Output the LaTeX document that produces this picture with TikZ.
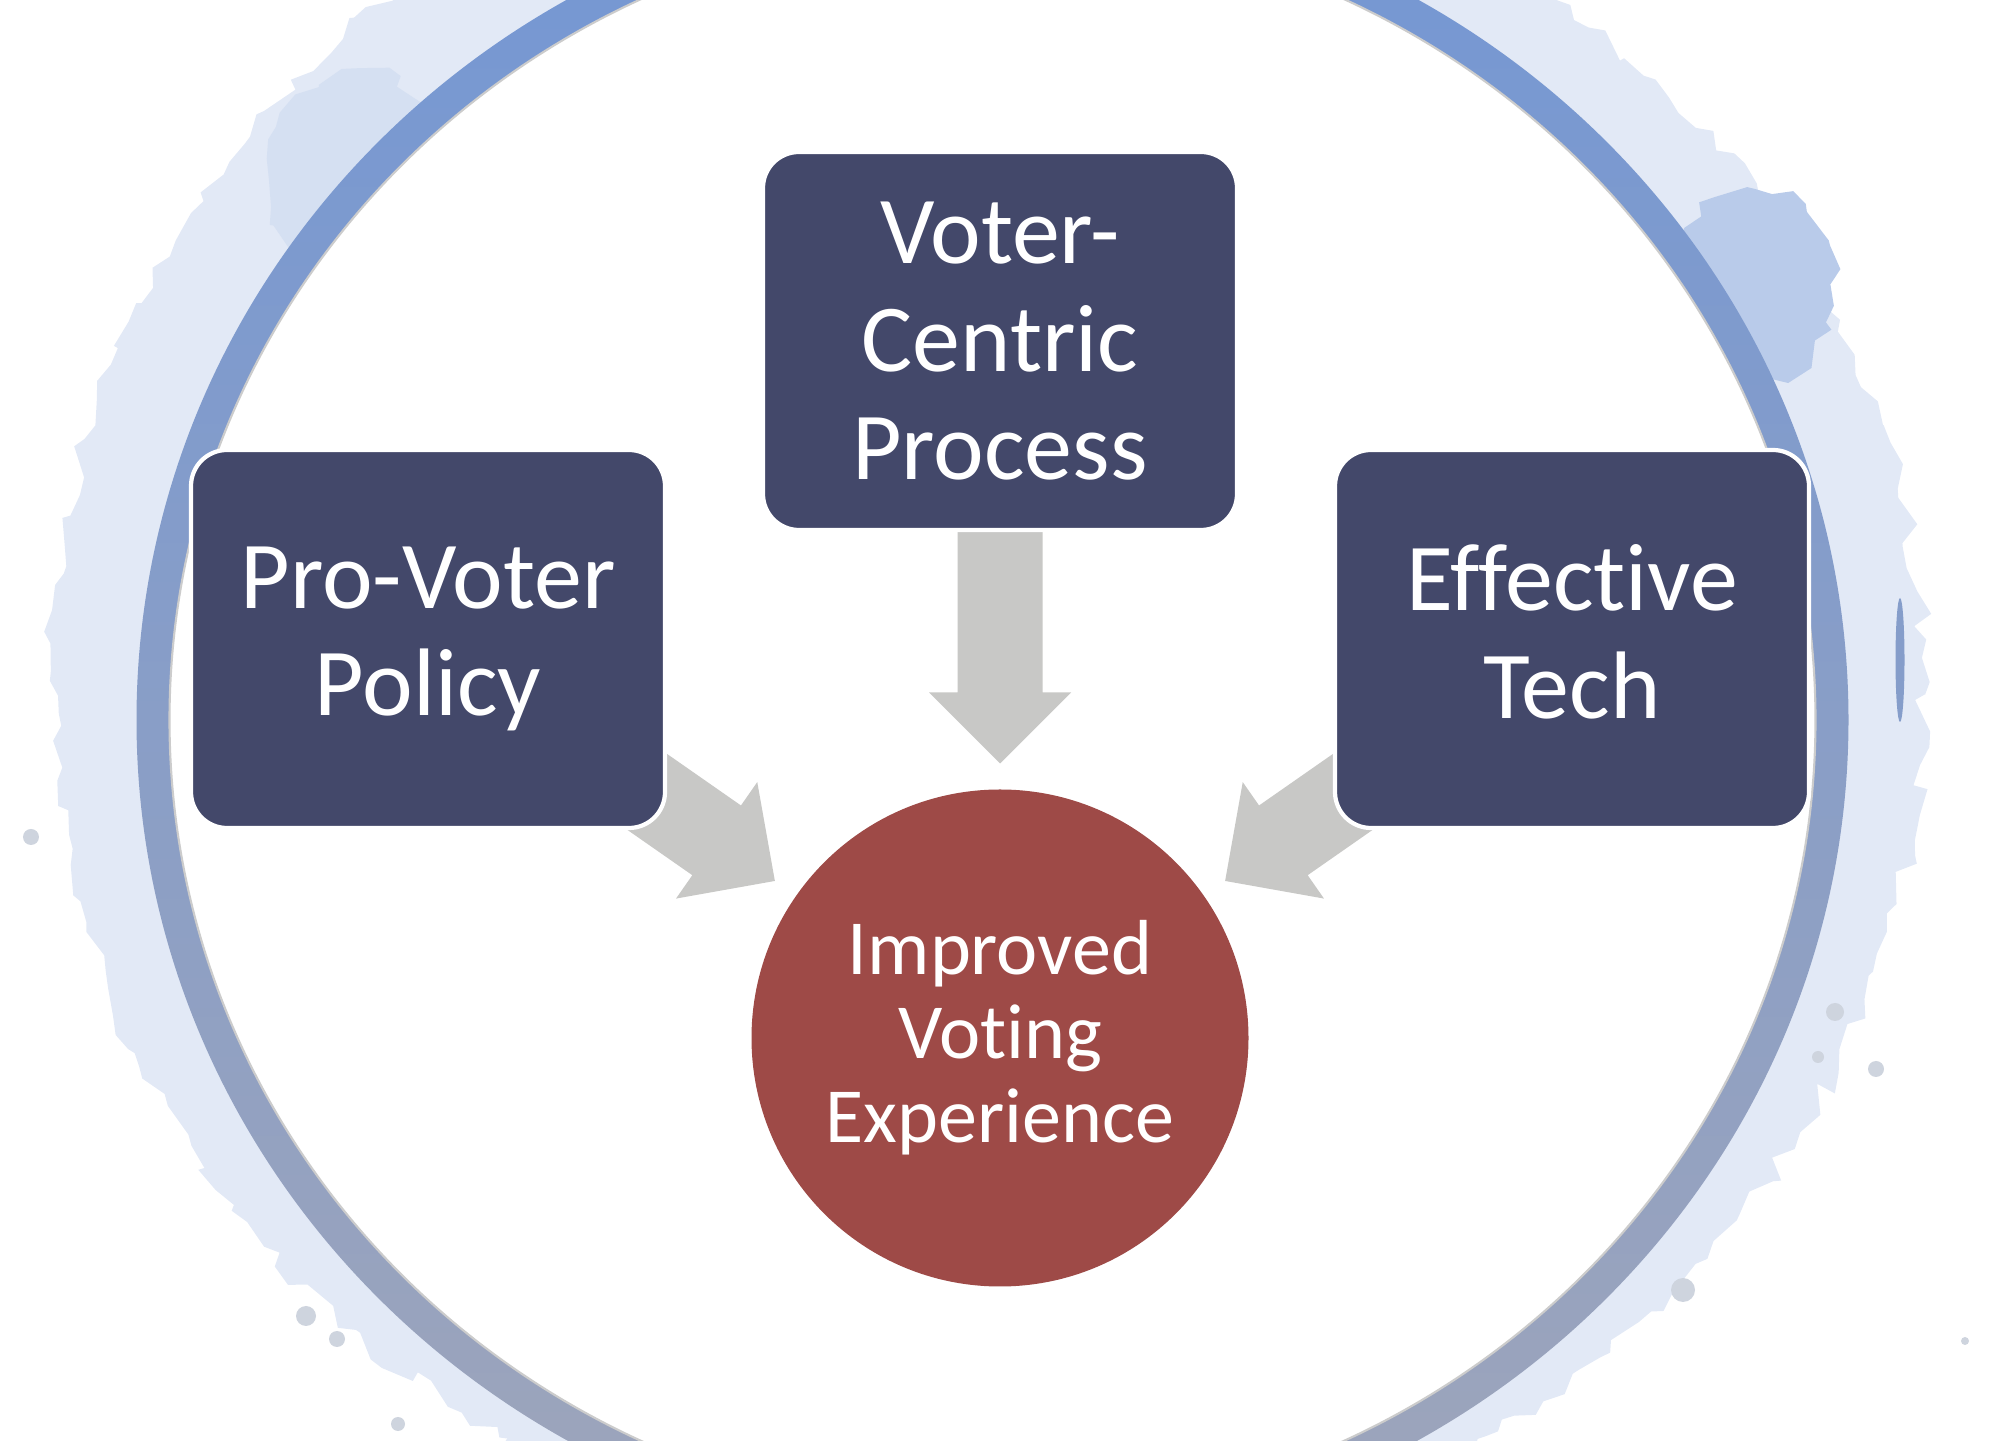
\documentclass[tikz,border=0pt]{standalone}
\usepackage{fontspec}
\setmainfont{Carlito}[Ligatures=NoCommon]
\usetikzlibrary{calc, backgrounds, decorations.pathmorphing}

\definecolor{ringtop}{RGB}{116,151,212}
\definecolor{ringmid}{RGB}{138,165,213}
\definecolor{ringbot}{RGB}{158,165,186}
\definecolor{ringsplash}{RGB}{226,233,246}
\definecolor{boxnavy}{RGB}{67,72,106}
\definecolor{outred}{RGB}{158,74,71}
\definecolor{arrowgrey}{RGB}{200,200,198}

% fat grey arrow from the centre of #1 to the point #2
\newcommand{\fatarrow}[2]{%
  \coordinate (fa-base) at ($(#2)!0.71cm!(#1)$);
  \fill[arrowgrey] ($(#1)!0.425cm!90:(#2)$) -- ($(fa-base)!0.425cm!90:(#2)$)
    -- ($(fa-base)!0.71cm!90:(#2)$) -- (#2)
    -- ($(fa-base)!0.71cm!-90:(#2)$) -- ($(fa-base)!0.425cm!-90:(#2)$)
    -- ($(#1)!0.425cm!-90:(#2)$) -- cycle;
}

\begin{document}
\begin{tikzpicture}[
    voterbox/.style={rectangle, rounded corners=0.36cm, fill=boxnavy, draw=white,
      line width=1.2pt, text=white, minimum width=4.74cm, minimum height=3.78cm,
      inner sep=0pt, align=center, font=\fontsize{27.3pt}{30.7pt}\selectfont},
    outcome/.style={circle, fill=outred, text=white, minimum size=4.97cm,
      inner sep=0pt, align=center, font=\fontsize{22.2pt}{23.9pt}\selectfont},
    splash/.style={ringsplash, decorate,
      decoration={random steps, segment length=5pt, amplitude=3pt}}
  ]
    \useasboundingbox (0,0) rectangle (19.97,14.40);
    \pgfmathsetseed{42}

    % Watercolour ring
    \begin{scope}[on background layer]
      \clip (0,0) rectangle (19.97,14.40);
      \fill[splash] (9.925,7.20) ellipse [x radius=8.80, y radius=8.55];
      \fill[splash] (9.45,7.60) ellipse [x radius=8.95, y radius=8.70];
      \fill[splash] (10.40,7.45) ellipse [x radius=8.85, y radius=8.55];
      \fill[splash, ringtop!50!white] (17.55,11.55) ellipse [x radius=0.75, y radius=0.95];
      \fill[splash, ringtop!30!white] (3.60,12.60) ellipse [x radius=0.90, y radius=1.10];
      \shade[top color=ringtop, middle color=ringmid, bottom color=ringbot] (9.925,7.20) ellipse [x radius=8.56, y radius=8.30];
      \fill[white, draw=gray!40, line width=0.6pt] (9.925,7.20) ellipse [x radius=8.23, y radius=7.97];
      \fill[ringtop!60!ringbot] (19.00,7.80) ellipse [x radius=0.045, y radius=0.62];
      \foreach \x/\y/\r in {0.31/6.03/0.08, 18.35/4.28/0.09, 18.18/3.83/0.06,
          18.76/3.71/0.08, 16.83/1.50/0.12, 19.65/0.99/0.04, 3.06/1.24/0.10,
          3.37/1.01/0.08, 3.98/0.16/0.07}
        \fill[ringsplash!80!gray] (\x,\y) circle (\r);
    \end{scope}

    % Three inputs
    \node[voterbox] (centric) at (10.00,10.99) {Voter-\\Centric\\Process};
    \node[voterbox] (policy) at (4.28,8.01) {Pro-Voter\\Policy};
    \node[voterbox] (tech) at (15.72,8.01) {Effective\\Tech\vphantom{y}};

    % Outcome
    \node[outcome] (improved) at (10.00,4.02) {Improved\\Voting\\Experience};

    % Arrows into the circle, under the boxes
    \coordinate (tip-centric) at ($(improved.center)!2.745cm!(centric.center)$);
    \coordinate (tip-policy) at ($(improved.center)!2.745cm!(policy.center)$);
    \coordinate (tip-tech) at ($(improved.center)!2.745cm!(tech.center)$);
    \begin{scope}[on background layer]
      \fatarrow{centric.center}{tip-centric}
      \fatarrow{policy.center}{tip-policy}
      \fatarrow{tech.center}{tip-tech}
    \end{scope}
\end{tikzpicture}
\end{document}
